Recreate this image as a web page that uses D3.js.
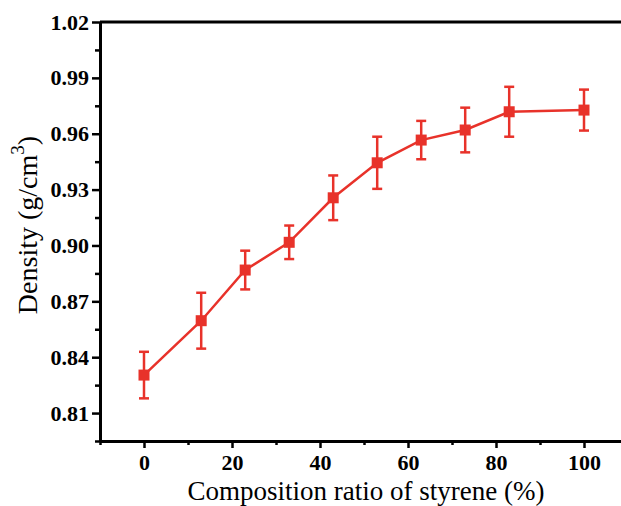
<!DOCTYPE html>
<html>
<head>
<meta charset="utf-8">
<script src="https://cdn.jsdelivr.net/npm/d3@7"></script>
<style>
  html, body { margin: 0; padding: 0; background: #fff; }
  svg { display: block; }
</style>
</head>
<body>
<svg id="chart" width="621" height="506"></svg>
<script>
// ---- data ----
const composition = [0, 13, 23, 33, 43, 53, 63, 73, 83, 100];
const density = [0.8304, 0.8596, 0.8868, 0.9017, 0.9256, 0.9444, 0.9566, 0.9620, 0.9718, 0.9727];
const densityErr = [0.0125, 0.0150, 0.0104, 0.0090, 0.0120, 0.0140, 0.0103, 0.0120, 0.0134, 0.0110];
const xMajorTicks = [0, 20, 40, 60, 80, 100];
const xMinorTicks = [-10, 10, 30, 50, 70, 90, 110];
const yMajorTicks = [0.81, 0.84, 0.87, 0.90, 0.93, 0.96, 0.99, 1.02];
const yMinorTicks = [0.795, 0.825, 0.855, 0.885, 0.915, 0.945, 0.975, 1.005];
const xTitle = "Composition ratio of styrene (%)";

const svg = d3.select("#chart");
const font = "'Liberation Serif', 'Times New Roman', serif";
const red = "#e8322a";

const x = d3.scaleLinear().domain([-10, 110]).range([100, 628]);
const y = d3.scaleLinear().domain([0.795, 1.02]).range([441, 22]);

const data = composition.map((c, i) => ({ x: c, y: density[i], e: densityErr[i] }));

// frame top/right
svg.append("line").attr("x1", x(-10)).attr("x2", x(110)).attr("y1", y(1.02)).attr("y2", y(1.02))
  .attr("stroke", "#000").attr("stroke-width", 3);
svg.append("line").attr("x1", x(110)).attr("x2", x(110)).attr("y1", y(1.02)).attr("y2", y(0.795))
  .attr("stroke", "#000").attr("stroke-width", 3);

// axes
function styleAxis(g) {
  g.selectAll("path.domain").attr("stroke", "#000").attr("stroke-width", 3);
  g.selectAll(".tick line").attr("stroke", "#000").attr("stroke-width", 2.5);
}

const gxMinor = svg.append("g").attr("transform", `translate(0,${y(0.795)})`)
  .call(d3.axisBottom(x).tickValues(xMinorTicks).tickSize(4).tickSizeOuter(0).tickFormat(""));
styleAxis(gxMinor);
const gx = svg.append("g").attr("transform", `translate(0,${y(0.795)})`)
  .call(d3.axisBottom(x).tickValues(xMajorTicks).tickSize(7).tickSizeOuter(0).tickPadding(6).tickFormat(d3.format("d")));
styleAxis(gx);
gx.selectAll(".tick text").attr("font-family", font).attr("font-weight", "bold")
  .attr("font-size", 22).attr("fill", "#000").attr("dy", "0.71em");

const gyMinor = svg.append("g").attr("transform", `translate(${x(-10)},0)`)
  .call(d3.axisLeft(y).tickValues(yMinorTicks).tickSize(5).tickSizeOuter(0).tickFormat(""));
styleAxis(gyMinor);
const gy = svg.append("g").attr("transform", `translate(${x(-10)},0)`)
  .call(d3.axisLeft(y).tickValues(yMajorTicks).tickSize(8).tickSizeOuter(0).tickPadding(3).tickFormat(d3.format(".2f")));
styleAxis(gy);
gy.selectAll(".tick text").attr("font-family", font).attr("font-weight", "bold")
  .attr("font-size", 22).attr("fill", "#000");

// axis titles
svg.append("text").attr("x", 366).attr("y", 500).attr("text-anchor", "middle")
  .attr("font-family", font).attr("font-size", 27).attr("fill", "#000").text(xTitle);

const yt = svg.append("text").attr("transform", "translate(37,225) rotate(-90)")
  .attr("text-anchor", "middle").attr("font-family", font).attr("font-size", 28).attr("fill", "#000");
yt.append("tspan").text("Density (g/cm");
yt.append("tspan").attr("dy", -13).attr("font-size", 19).text("3");
yt.append("tspan").attr("dy", 13).text(")");

// line
svg.append("path").datum(data)
  .attr("d", d3.line().x(d => x(d.x)).y(d => y(d.y)))
  .attr("fill", "none").attr("stroke", red).attr("stroke-width", 2.5);

// error bars
const eb = svg.append("g").selectAll("g").data(data).join("g");
eb.append("line").attr("x1", d => x(d.x)).attr("x2", d => x(d.x))
  .attr("y1", d => y(d.y + d.e)).attr("y2", d => y(d.y - d.e))
  .attr("stroke", red).attr("stroke-width", 2.5);
eb.append("line").attr("x1", d => x(d.x) - 5).attr("x2", d => x(d.x) + 5)
  .attr("y1", d => y(d.y + d.e)).attr("y2", d => y(d.y + d.e))
  .attr("stroke", red).attr("stroke-width", 2.5);
eb.append("line").attr("x1", d => x(d.x) - 5).attr("x2", d => x(d.x) + 5)
  .attr("y1", d => y(d.y - d.e)).attr("y2", d => y(d.y - d.e))
  .attr("stroke", red).attr("stroke-width", 2.5);

// markers
svg.append("g").selectAll("rect").data(data).join("rect")
  .attr("x", d => x(d.x) - 5.5).attr("y", d => y(d.y) - 5.5)
  .attr("width", 11).attr("height", 11).attr("fill", red);
</script>
</body>
</html>
